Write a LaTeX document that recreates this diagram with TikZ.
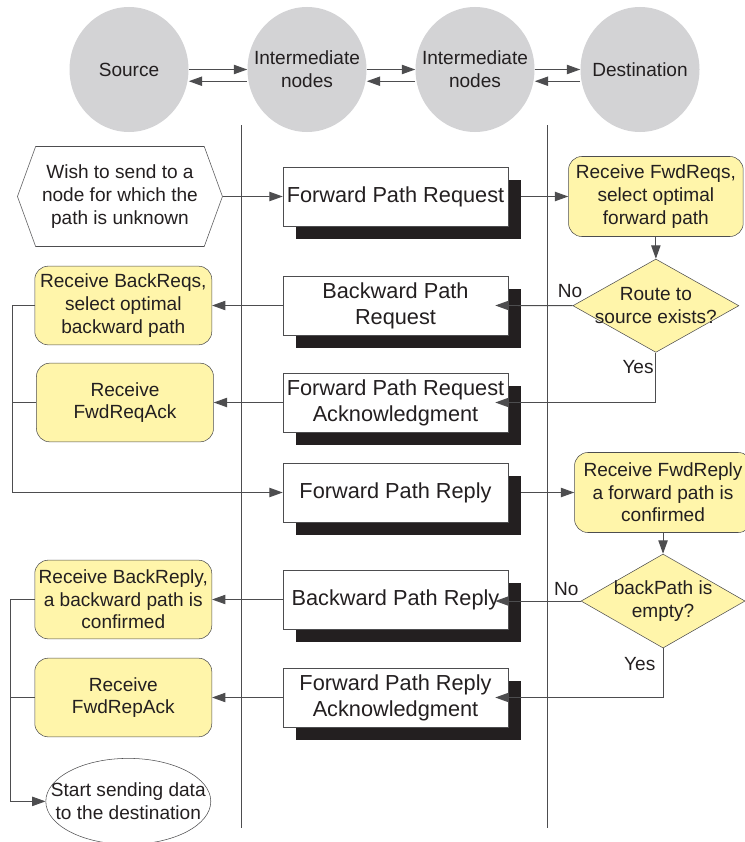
\documentclass[tikz,border=0pt]{standalone}
\usepackage{fontspec}
\setmainfont{Liberation Sans}
\usetikzlibrary{arrows.meta,positioning,shapes.geometric,shapes.symbols,shadows,calc}
\definecolor{nodegray}{HTML}{D3D3D5}
\definecolor{stepyellow}{HTML}{FFF5AA}
\definecolor{inkdark}{HTML}{231F20}
\definecolor{linegray}{HTML}{4D4D4F}

\begin{document}
\begin{tikzpicture}[
    x=0.75pt, y=-0.75pt,
    txt/.style={font=\fontsize{14.3}{17}\selectfont, text=inkdark, align=center},
    peer/.style={ellipse, fill=nodegray, minimum width=89.25pt, minimum height=93.75pt, inner sep=0pt},
    msg/.style={draw=linegray, fill=white, minimum width=168.75pt, minimum height=44.25pt,
                inner sep=0pt, align=center, font=\fontsize{16.3}{19.5}\selectfont, text=inkdark,
                drop shadow={shadow xshift=9.75pt, shadow yshift=-9.75pt, fill=inkdark, opacity=1}},
    act/.style={txt, draw=linegray, fill=stepyellow, rounded corners=10pt,
                minimum width=132.75pt, minimum height=59pt, inner sep=0pt},
    test/.style={diamond, draw=linegray, fill=stepyellow, minimum width=124.5pt,
                 minimum height=70pt, inner sep=0pt},
    arr/.style={-{Triangle[length=10pt,width=7pt]}, linegray, line width=0.7pt},
    ln/.style={linegray, line width=0.7pt},
    lbl/.style={txt, inner sep=0pt}
]
\useasboundingbox (0,0) rectangle (745,842);

% --- Nodes on the path (top) ---
\node[peer, label={[txt]center:Source}] (src) at (129,69.5) {};
\node[peer, label={[txt]center:Intermediate\\nodes}] (mid1) at (307,69.5) {};
\node[peer, label={[txt]center:Intermediate\\nodes}] (mid2) at (475,69.5) {};
\node[peer, label={[txt]center:Destination}] (dst) at (640,69.5) {};

\draw[arr] (src.east)  -- (mid1.west);
\draw[arr] (mid1.east) -- (mid2.west);
\draw[arr] (mid2.east) -- (dst.west);
\draw[arr] ([yshift=-8.8pt]mid1.west) -- ([yshift=-8.8pt]src.east);
\draw[arr] ([yshift=-8.8pt]mid2.west) -- ([yshift=-8.8pt]mid1.east);
\draw[arr] ([yshift=-8.8pt]dst.west)  -- ([yshift=-8.8pt]mid2.east);

% lane separators
\draw[ln] (241,125) -- (241,828);
\draw[ln] (547,125) -- (547,828);

% --- Messages (middle lane) ---
\node[msg] (fwdreq) at (395.5,196.5) {Forward Path Request};
\node[msg] (bwdreq) at (395.5,305.5) {Backward Path\\Request};
\node[msg] (reqack) at (395.5,402.5) {Forward Path Request\\Acknowledgment};
\node[msg] (fwdrep) at (395.5,492.5) {Forward Path Reply};
\node[msg] (bwdrep) at (395.5,599.5) {Backward Path Reply};
\node[msg] (repack) at (395.5,697.5) {Forward Path Reply\\Acknowledgment};

% --- Source side (left lane) ---
\node[txt, draw=linegray, fill=white, signal, signal to=east and west, signal pointer angle=140,
      minimum width=153.75pt, minimum height=75pt, inner sep=0pt, left=45pt of fwdreq] (wish)
      {Wish to send to a\\node for which the\\path is unknown};
\node[act, left=53pt of bwdreq]    (backreq)  {Receive BackReqs,\\select optimal\\backward path};
\node[act, left=51.75pt of reqack] (reqackrx) {Receive\\FwdReqAck};
\node[act, left=53pt of bwdrep]    (backrep)  {Receive BackReply,\\a backward path is\\confirmed};
\node[act, left=53pt of repack]    (repackrx) {Receive\\FwdRepAck};
\node[ellipse, draw=linegray, fill=white, minimum width=123.75pt, minimum height=64.5pt, inner sep=0pt,
      below=15.75pt of repackrx, xshift=3.75pt,
      label={[txt]center:Start sending data\\to the destination}] (start) {};

% --- Destination side (right lane) ---
\node[act, right=45pt of fwdreq, minimum width=131pt, minimum height=60pt] (fwdreqrx)
      {Receive FwdReqs,\\select optimal\\forward path};
\node[test, below=16.5pt of fwdreqrx, label={[txt]center:Route to\\source exists?}] (route) {};
\node[act, right=49.5pt of fwdrep, minimum height=60pt] (fwdreprx)
      {Receive FwdReply\\a forward path is\\confirmed};
\node[test, below=15.75pt of fwdreprx, minimum width=123pt, minimum height=70.5pt,
      label={[txt]center:backPath is\\empty?}] (empty) {};

% request phase
\draw[arr] (wish) -- (fwdreq);
\draw[arr, shorten <=9.75pt] (fwdreq) -- (fwdreqrx);
\draw[arr] (fwdreqrx) -- (route);
\draw[arr, shorten >=-9.75pt] (route.west) -- (bwdreq.east);
\draw[arr, shorten >=-9.75pt] (route.south) |- (reqack.east);
\node[lbl, anchor=south east] (no1)  at ($(route.west)+(10,-8)$) {No};
\node[lbl, anchor=north east] (yes1) at ($(route.south)+(-2,7)$) {Yes};

\draw[arr] (bwdreq) -- (backreq);
\draw[arr] (reqack) -- (reqackrx);
\coordinate (busA) at ($(backreq.west)+(-22,0)$);
\draw[arr] (backreq.west) -- (busA) |- (fwdrep.west);
\draw[ln] (reqackrx.west) -- (reqackrx.west -| busA);

% reply phase
\draw[arr, shorten <=9.75pt] (fwdrep) -- (fwdreprx);
\draw[arr] (fwdreprx) -- (empty);
\draw[arr, shorten >=-9.75pt] (empty.west) -- (bwdrep.east |- empty.west);
\draw[arr, shorten >=-9.75pt] (empty.south) |- (repack.east);
\node[lbl, anchor=south east] (no2)  at ($(empty.west)+(-2,-5.5)$) {No};
\node[lbl, anchor=north east] (yes2) at ($(empty.south)+(-7.5,8.5)$) {Yes};

\draw[arr] (bwdrep) -- (backrep);
\draw[arr] (repack) -- (repackrx);
\coordinate (busB) at ($(backrep.west)+(-24,0)$);
\draw[arr] (backrep.west) -- (busB) |- (start.west);
\draw[ln] (repackrx.west) -- (repackrx.west -| busB);

\end{tikzpicture}
\end{document}
